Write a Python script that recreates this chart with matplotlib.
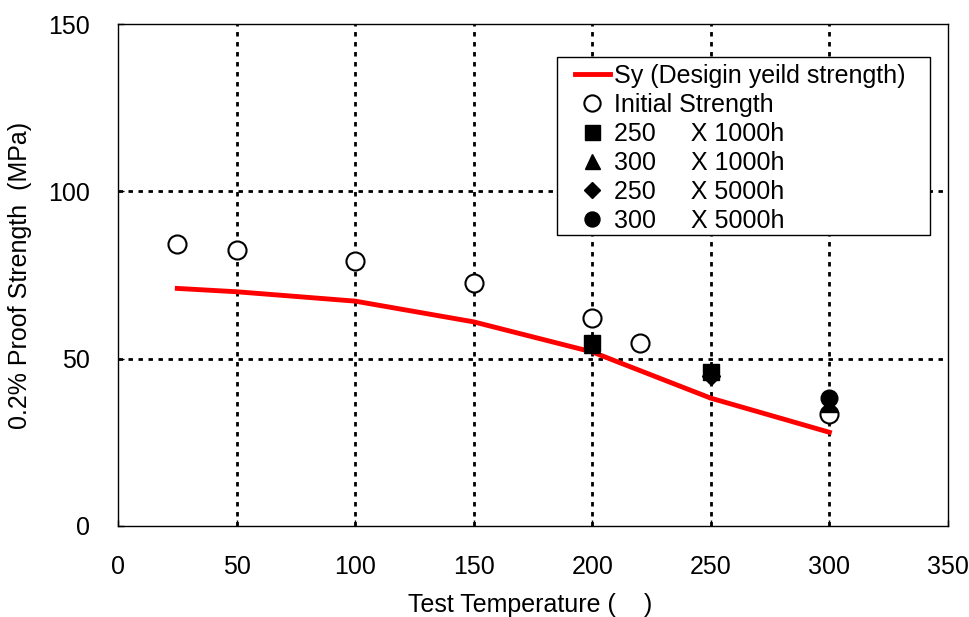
import matplotlib
matplotlib.use("Agg")
import matplotlib.pyplot as plt
from matplotlib.patches import Rectangle

plt.rcParams["font.family"] = ["Liberation Sans", "DejaVu Sans"]

# ── Data ────────────────────────────────────────────────────────────────
sy_temp = [25, 50, 100, 150, 200, 250, 300]
sy_vals = [71.0, 70.0, 67.2, 61.0, 52.0, 38.2, 28.0]

init_temp = [25, 50, 100, 150, 200, 220, 300]
init_vals = [84.3, 82.6, 79.2, 72.6, 62.1, 54.6, 33.5]

t250_1000_temp = [200, 250]
t250_1000_vals = [54.6, 46.0]
t300_1000_temp = [200, 300]
t300_1000_vals = [54.0, 36.5]
t250_5000_temp = [250]
t250_5000_vals = [44.8]
t300_5000_temp = [300]
t300_5000_vals = [38.3]

x_ticks = [0, 50, 100, 150, 200, 250, 300, 350]
y_ticks = [0, 50, 100, 150]

FONT = 18

fig = plt.figure(figsize=(9.69, 6.17), dpi=100)
ax = fig.add_axes([0.1218, 0.1475, 0.8565, 0.8135])

grid_kw = dict(color="black", linewidth=2.0, linestyle=(0, (1.6, 2.0)))
for x in x_ticks[1:-1]:
    ax.axvline(x, zorder=1, **grid_kw)
for y in y_ticks[1:-1]:
    ax.axhline(y, zorder=1, **grid_kw)

ax.plot(sy_temp, sy_vals, color="red", linewidth=3.5, zorder=3,
        label="Sy (Desigin yeild strength)")
ax.plot(init_temp, init_vals, linestyle="none", marker="o", markersize=13,
        markerfacecolor="white", markeredgecolor="black", markeredgewidth=1.5,
        zorder=4, label="Initial Strength")
ax.plot(t250_1000_temp, t250_1000_vals, linestyle="none", marker="s",
        markersize=12, color="black", zorder=5, label="250     X 1000h")
ax.plot(t300_1000_temp, t300_1000_vals, linestyle="none", marker="^",
        markersize=12, color="black", zorder=4, label="300     X 1000h")
ax.plot(t250_5000_temp, t250_5000_vals, linestyle="none", marker="D",
        markersize=9, color="black", zorder=4, label="250     X 5000h")
ax.plot(t300_5000_temp, t300_5000_vals, linestyle="none", marker="o",
        markersize=12, color="black", zorder=4, label="300     X 5000h")

ax.set_xlim(0, 350)
ax.set_ylim(0, 150)
ax.set_xticks(x_ticks)
ax.set_yticks(y_ticks)
ax.tick_params(labelsize=FONT, direction="in", length=4, width=1)
ax.tick_params(axis="x", pad=21)
ax.tick_params(axis="y", pad=20)
for spine in ax.spines.values():
    spine.set_linewidth(1.0)
    spine.set_color("black")

ax.set_xlabel("Test Temperature (    )", fontsize=FONT, va="center")
ax.xaxis.set_label_coords(0.497, -0.157)
ax.set_ylabel("0.2% Proof Strength  (MPa)", fontsize=FONT, va="center")
ax.yaxis.set_label_coords(-0.118, 0.5)

# legend box: white frame drawn separately, entries placed inside it
ax.add_patch(Rectangle((0.529, 0.580), 0.449, 0.354, transform=ax.transAxes,
                       facecolor="white", edgecolor="black", linewidth=1.0,
                       zorder=6))
leg = ax.legend(loc="upper left", bbox_to_anchor=(0.5506, 0.921),
                fontsize=FONT, frameon=False, handlelength=1.4,
                handletextpad=0.15, labelspacing=0.2, borderpad=0,
                borderaxespad=0, markerscale=0.9)
leg.set_zorder(7)

fig.savefig("out.png", dpi=100, facecolor="white")
